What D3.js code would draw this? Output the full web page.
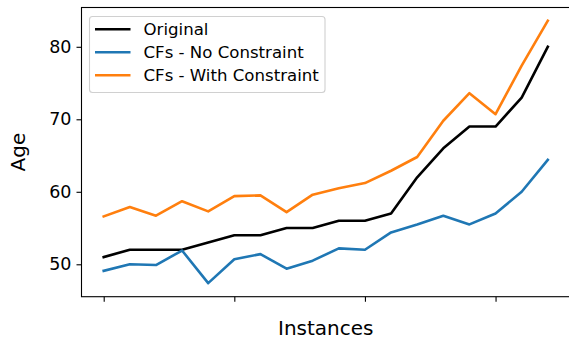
<!DOCTYPE html>
<html>
<head>
<meta charset="utf-8">
<script src="https://cdn.jsdelivr.net/npm/d3@7"></script>
<style>
  html, body { margin: 0; padding: 0; background: #fff; }
  svg { display: block; }
  text { font-family: "DejaVu Sans", sans-serif; fill: #000; }
</style>
</head>
<body>
<svg id="chart" width="569" height="339"></svg>
<script>
// Age per instance: the original record and the counterfactuals generated
// without and with the constraint.
const instances = d3.range(18);
const original = [51, 52, 52, 52, 53, 54, 54, 55, 55, 56, 56, 57, 62, 66, 69, 69, 73, 80];
const cfsNoConstraint = [49.1, 50.0, 49.9, 51.9, 47.4, 50.7, 51.4, 49.4, 50.5, 52.2, 52.0, 54.4, 55.5, 56.7, 55.5, 57.0, 60.0, 64.4];
const cfsWithConstraint = [56.6, 57.9, 56.7, 58.7, 57.3, 59.4, 59.5, 57.2, 59.6, 60.5, 61.2, 62.9, 64.8, 69.8, 73.6, 70.7, 77.4, 83.6];
const yTicks = [50, 60, 70, 80];
const xTicks = [0, 5, 10, 15];

const series = [
  { name: "Original", values: original, color: "#000000" },
  { name: "CFs - No Constraint", values: cfsNoConstraint, color: "#1f77b4" },
  { name: "CFs - With Constraint", values: cfsWithConstraint, color: "#ff7f0e" }
];

const svg = d3.select("#chart");
const plot = { left: 81.5, right: 570, top: 7.5, bottom: 296.7 };

const x = d3.scaleLinear().domain([-0.85, 17.85]).range([plot.left, plot.right]);
const y = d3.scaleLinear().domain([45.53, 85.42]).range([plot.bottom, plot.top]);

// Lines
const line = d3.line()
  .x((d, i) => x(instances[i]))
  .y(d => y(d));

svg.append("g")
  .selectAll("path")
  .data(series)
  .join("path")
  .attr("d", s => line(s.values))
  .attr("fill", "none")
  .attr("stroke", s => s.color)
  .attr("stroke-width", 2.6)
  .attr("stroke-linejoin", "round")
  .attr("stroke-linecap", "square");

// Axes
const xAxis = d3.axisBottom(x).tickValues(xTicks).tickFormat("").tickSize(5).tickSizeOuter(0);
const yAxis = d3.axisLeft(y).tickValues(yTicks).tickSize(5).tickPadding(5).tickSizeOuter(0);

const gx = svg.append("g").attr("transform", `translate(0,${plot.bottom})`).call(xAxis);
const gy = svg.append("g").attr("transform", `translate(${plot.left},0)`).call(yAxis);
[gx, gy].forEach(g => {
  g.select(".domain").remove();
  g.selectAll(".tick line").attr("stroke", "#000").attr("stroke-width", 1.1);
});
gy.selectAll(".tick text")
  .attr("font-size", 17.5)
  .attr("fill", "#000")
  .style("font-family", "DejaVu Sans, sans-serif");

// Frame
svg.append("rect")
  .attr("x", plot.left).attr("y", plot.top)
  .attr("width", plot.right - plot.left).attr("height", plot.bottom - plot.top)
  .attr("fill", "none").attr("stroke", "#000").attr("stroke-width", 1.1);

// Axis titles
svg.append("text")
  .attr("x", (plot.left + plot.right) / 2).attr("y", 335)
  .attr("text-anchor", "middle").attr("font-size", 20)
  .text("Instances");

svg.append("text")
  .attr("transform", `translate(25,${(plot.top + plot.bottom) / 2}) rotate(-90)`)
  .attr("text-anchor", "middle").attr("font-size", 20)
  .text("Age");

// Legend
const legend = svg.append("g");
legend.append("rect")
  .attr("x", 89.5).attr("y", 16.5).attr("width", 235.5).attr("height", 76)
  .attr("rx", 3).attr("ry", 3)
  .attr("fill", "#fff").attr("fill-opacity", 0.8)
  .attr("stroke", "#d0d0d0").attr("stroke-width", 1.1);

const rows = legend.selectAll("g.row")
  .data(series)
  .join("g")
  .attr("class", "row")
  .attr("transform", (d, i) => `translate(0,${29.3 + i * 23})`);

rows.append("line")
  .attr("x1", 95).attr("x2", 130.5)
  .attr("stroke", d => d.color).attr("stroke-width", 2.6);

rows.append("text")
  .attr("x", 143.5).attr("y", 6)
  .attr("font-size", 16.6)
  .text(d => d.name);
</script>
</body>
</html>
